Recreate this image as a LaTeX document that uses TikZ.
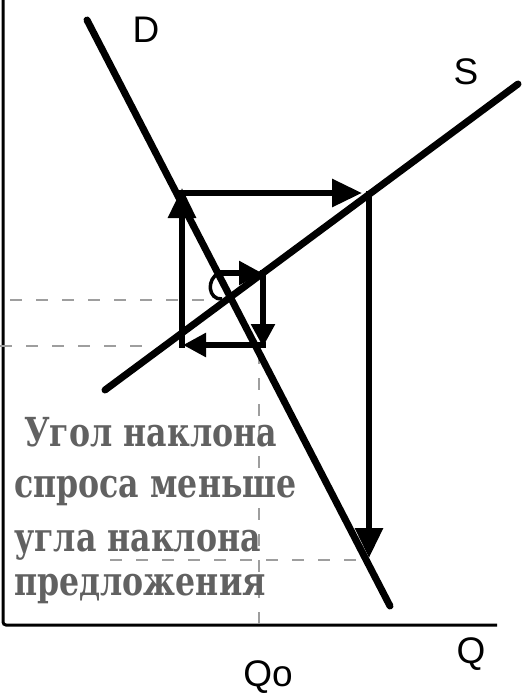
\documentclass[tikz,border=0pt]{standalone}
\usepackage{fontspec}
\usepackage{graphicx}
\setmainfont{DejaVu Serif}
\setsansfont{Liberation Sans}
\usetikzlibrary{arrows.meta}
\newcommand\sqz[1]{\scalebox{0.79}[1]{#1}}
\begin{document}
\begin{tikzpicture}[x=1pt,y=-1pt,
  curve/.style={line width=7pt, line cap=round},
  axisline/.style={line width=3pt, rounded corners=3pt},
  guide/.style={black!38, line width=2pt, dash pattern=on 12pt off 14pt},
  bigarrow/.style={line width=6pt, -{Triangle[length=30pt,width=27pt]}},
  smallarrow/.style={line width=5.5pt, -{Triangle[length=23pt,width=23pt]}},
  lbl/.style={font=\sffamily\fontsize{37}{37}\selectfont, inner sep=0pt},
  txt/.style={font=\bfseries\fontsize{40}{40}\selectfont, text=black!62, anchor=base west, inner sep=0pt}
]
\useasboundingbox (0,0) rectangle (522,694);
% axes
\coordinate (top) at (3,0);
\coordinate (origin) at (3,625);
\coordinate (xend) at (497,625);
\draw[axisline] (top) -- (origin) -- (xend);
% guides
\coordinate (g1a) at (10,300); \coordinate (g1b) at (215,300);
\coordinate (g2a) at (0,346);  \coordinate (g2b) at (148,346);
\coordinate (g3a) at (110,560); \coordinate (g3b) at (362,560);
\coordinate (g4a) at (259,352); \coordinate (g4b) at (259,625);
\draw[guide] (g1a) -- (g1b);
\draw[guide] (g2a) -- (g2b);
\draw[guide] (g3a) -- (g3b);
\draw[guide] (g4a) -- (g4b);
% curves
\coordinate (d1) at (87,20); \coordinate (d2) at (390,606);
\coordinate (s1) at (105,390); \coordinate (s2) at (518,84);
\draw[curve] (d1) -- (d2);
\draw[curve] (s1) -- (s2);
% spiral
\coordinate (h0) at (222,299);
\coordinate (a1) at (219,273); \coordinate (a2) at (263,273);
\coordinate (a3) at (263,345); \coordinate (a4) at (182,345);
\coordinate (a5) at (182,193); \coordinate (a6) at (369,193);
\coordinate (a7) at (369,558);
\draw[line width=3.5pt] (h0) .. controls (208,300) and (206,279) .. (a1);
\draw[smallarrow] (a1) -- ([xshift=-1pt]a2);
\draw[smallarrow, line cap=rect] (a2) -- ([yshift=-2pt]a3);
\draw[smallarrow, line cap=rect] (a3) -- ([xshift=1pt]a4);
\draw[bigarrow, line cap=rect] (a4) -- ([yshift=5pt]a5);
\draw[bigarrow, line cap=rect] ([xshift=-3pt]a5) -- ([xshift=-7pt]a6);
\draw[bigarrow] ([yshift=2pt]a6) -- (a7);
% labels
\node[lbl] (D) at (146,30) {D};
\node[lbl] (S) at (466,72) {S};
\node[lbl] (Q) at (471,654) {Q};
\node[lbl] (Qo) at (268,677) {Qo};
% text
\node[txt] (t1) at (24,446) {\sqz{Угол наклона}};
\node[txt] (t2) at (14,497) {\sqz{спроса меньше}};
\node[txt] (t3) at (14,551) {\sqz{угла наклона}};
\node[txt] (t4) at (14,595) {\sqz{предложения}};
\end{tikzpicture}
\end{document}
